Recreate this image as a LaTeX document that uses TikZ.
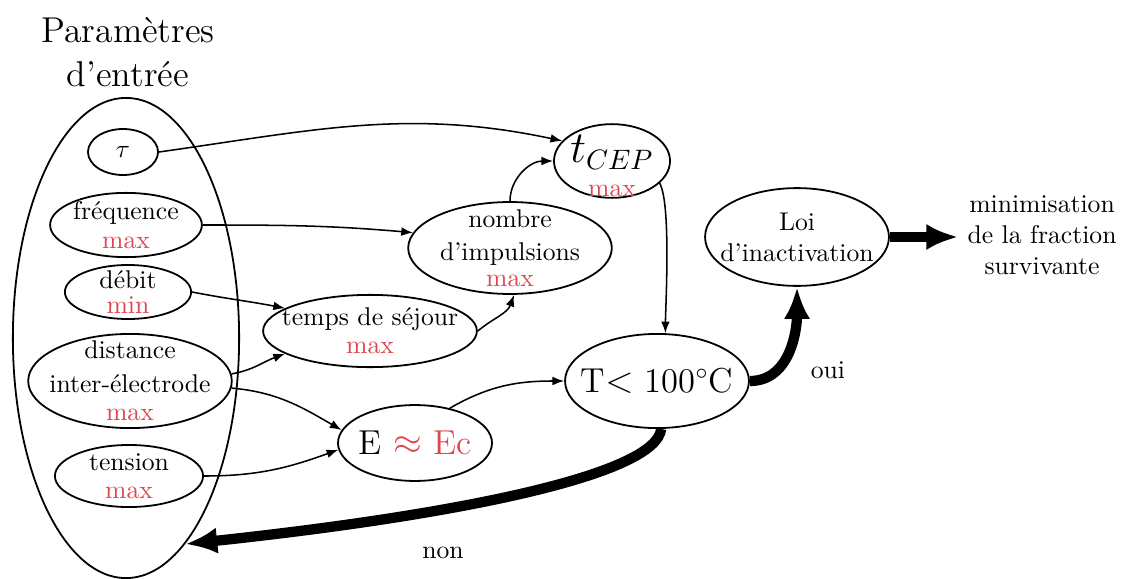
\documentclass[tikz,border=0pt]{standalone}
\usepackage{amsmath}
\usepackage{xcolor}
\usepackage{tikz}
\usetikzlibrary{positioning, arrows.meta, shapes.geometric}

\definecolor{rougemax}{RGB}{222,70,78}
\newcommand{\rmax}{\textcolor{rougemax}{max}}
\newcommand{\rmin}{\textcolor{rougemax}{min}}

\tikzset{
  bulle/.style={ellipse, draw, line width=0.7pt, inner sep=0pt},
  fleche/.style={-{Latex[length=1.6mm,width=1.2mm]}, line width=0.6pt},
  grossefleche/.style={-{Latex[length=4.4mm,width=3.6mm]}, line width=4pt},
  grand/.style={font=\fontsize{13.5}{16.5}\selectfont},
}

\begin{document}
\begin{tikzpicture}[x=0.0137cm, y=0.0137cm, font=\normalsize]
  \useasboundingbox (0,0) rectangle (1127,578);
  % parametres d'entree (1 unite = 1 pixel de la figure)
  \node[font=\fontsize{14}{17}\selectfont, align=center] (titre) at (128,526) {Paramètres\\d’entrée};
  \node[bulle, minimum width=3.10cm, minimum height=6.58cm] (entree) at (126,240) {};
  \node[bulle, minimum width=0.96cm, minimum height=0.63cm, label={center:$\tau$}] (tau) at (123,426) {};
  \node[bulle, minimum width=2.08cm, minimum height=0.88cm,
        label={[align=center]center:{fréquence\\[-1pt]\rmax}}] (freq) at (126,353) {};
  \node[bulle, minimum width=1.73cm, minimum height=0.74cm,
        label={[align=center]center:{débit\\[-2pt]\rmin}}] (debit) at (128,286) {};
  \node[bulle, minimum width=2.79cm, minimum height=1.29cm,
        label={[align=center]center:{distance\\[1pt]inter-électrode\\[-1pt]\rmax}}] (dist) at (130,197) {};
  \node[bulle, minimum width=2.03cm, minimum height=0.85cm,
        label={[align=center]center:{tension\\[-1pt]\rmax}}] (tension) at (129,102) {};
  % grandeurs intermediaires
  \node[bulle, minimum width=2.93cm, minimum height=0.99cm,
        label={[align=center]center:{temps de séjour\\[-1pt]\rmax}}] (temps) at (370,247) {};
  \node[bulle, minimum width=2.11cm, minimum height=1.04cm,
        label={[grand]center:{E \textcolor{rougemax}{$\approx$ Ec}}}] (champ) at (415,135) {};
  \node[bulle, minimum width=2.79cm, minimum height=1.26cm,
        label={[align=center]center:{nombre\\[1pt]d’impulsions\\[-2pt]\rmax}}] (nombre) at (510,330) {};
  \node[bulle, minimum width=1.59cm, minimum height=1.01cm,
        label={[align=center, yshift=-2pt]center:{{\fontsize{16}{16}\selectfont$t_{CEP}$}\\[1pt]\rmax}}] (tcep) at (612,417) {};
  \node[bulle, minimum width=2.52cm, minimum height=1.29cm,
        label={[grand]center:{T$<$ 100$^\circ$C}}] (temp) at (657,197) {};
  \node[bulle, minimum width=2.52cm, minimum height=1.34cm,
        label={[align=center]center:{Loi\\d’inactivation}}] (loi) at (797,341) {};
  \node[align=center] (minim) at (1042,343) {minimisation\\de la fraction\\survivante};
  \node (oui) at (828,208) {oui};
  \node (non) at (443,25) {non};
  % fleches fines
  \foreach \de/\vers/\o/\i in {tau.east/tcep.158/8/168, freq.east/nombre.171/0/175,
      debit.east/temps.165/-11/169, dist.4/temps.195/10/200, dist.-4/champ.170/-5/150,
      tension.east/champ.185/0/200, temps.east/nombre.-85/40/-110,
      nombre.north/tcep.west/90/180, champ.45/temp.west/30/180}
    \draw[fleche] (\de) to[out=\o, in=\i] (\vers);
  \draw[fleche] (tcep.-25) to[out=-60, in=90, looseness=0.4] (temp.80);
  % decision
  \draw[grossefleche] (temp.east) to[out=0, in=-90] (loi.south);
  \draw[grossefleche] (temp.-85) .. controls +(-5,-45) and +(280,30) .. (entree.-74);
  \draw[grossefleche] (loi.east) -- (loi.east -| minim.west);
\end{tikzpicture}
\end{document}
